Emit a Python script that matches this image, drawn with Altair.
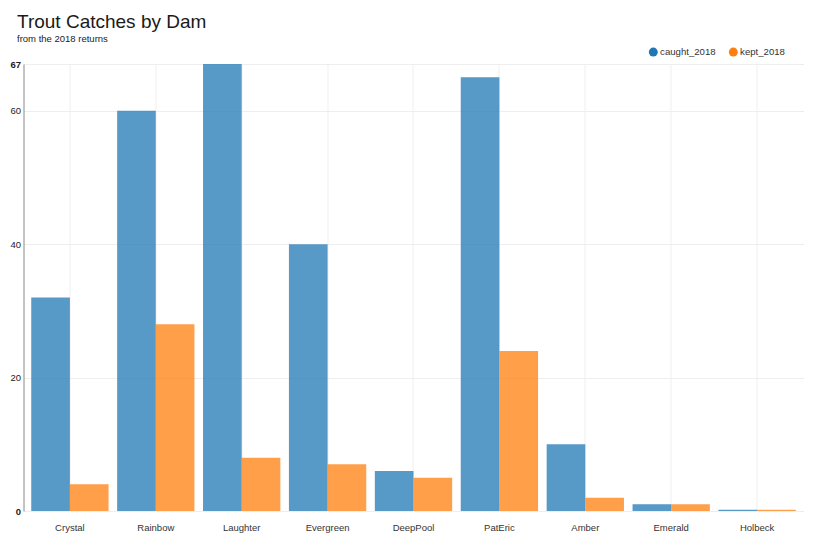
import altair as alt
import pandas as pd

dams = ["Crystal", "Rainbow", "Laughter", "Evergreen", "DeepPool", "PatEric", "Amber", "Emerald", "Holbeck"]
caught_2018 = [32, 60, 67, 40, 6, 65, 10, 1, 0.2]
kept_2018 = [4, 28, 8, 7, 5, 24, 2, 1, 0.2]
series = ["caught_2018", "kept_2018"]
colors = ["#1f77b4", "#ff7f0e"]
y_ticks = [0, 20, 40, 60, 67]

rows = []
for d, c, k in zip(dams, caught_2018, kept_2018):
    rows.append({"dam": d, "series": "caught_2018", "value": c})
    rows.append({"dam": d, "series": "kept_2018", "value": k})
df = pd.DataFrame(rows)

FONT = "Liberation Sans"

chart = alt.Chart(df).mark_bar(opacity=0.75).encode(
    x=alt.X("dam:N", sort=dams,
            scale=alt.Scale(paddingInner=0.1, paddingOuter=0.09),
            axis=alt.Axis(title=None, labelAngle=0, ticks=False, grid=True,
                          gridColor="#efefef", domainColor="#eeeeee",
                          labelPadding=11, labelFontSize=9.5, labelColor="#333333",
                          labelFont=FONT)),
    xOffset=alt.XOffset("series:N", sort=series),
    y=alt.Y("value:Q", scale=alt.Scale(domain=[0, 67], nice=False),
            axis=alt.Axis(title=None, values=y_ticks, ticks=False, grid=True,
                          gridColor="#eeeeee", domainColor="#888888",
                          labelPadding=3, labelFontSize=9.5, labelColor="#222222",
                          labelFont=FONT,
                          labelFontWeight=alt.condition("datum.value == 0 || datum.value == 67",
                                                        alt.value("bold"), alt.value("normal")))),
    color=alt.Color("series:N", scale=alt.Scale(domain=series, range=colors),
                    legend=alt.Legend(title=None, orient="none", direction="horizontal",
                                      legendX=625, legendY=-17, symbolType="circle",
                                      symbolSize=81, symbolOpacity=1, symbolStrokeWidth=0,
                                      labelFontSize=9.6, labelFont=FONT, labelColor="#333333",
                                      labelOffset=2, columnPadding=12)),
).properties(
    width=780,
    height=447,
    title=alt.TitleParams(
        text="Trout Catches by Dam",
        subtitle="from the 2018 returns",
        anchor="start",
        frame="group",
        dx=-6.5,
        offset=4,
        font=FONT,
        fontSize=19,
        fontWeight="normal",
        color="#1a1a1a",
        subtitleFont=FONT,
        subtitleFontSize=9.5,
        subtitleColor="#222222",
        subtitlePadding=2,
    ),
    autosize=alt.AutoSizeParams(type="none"),
    padding={"left": 15.5, "top": 56, "right": 18, "bottom": 23},
).configure_view(stroke=None)

chart.save("out.html", embed_options={"renderer": "svg", "actions": False})
